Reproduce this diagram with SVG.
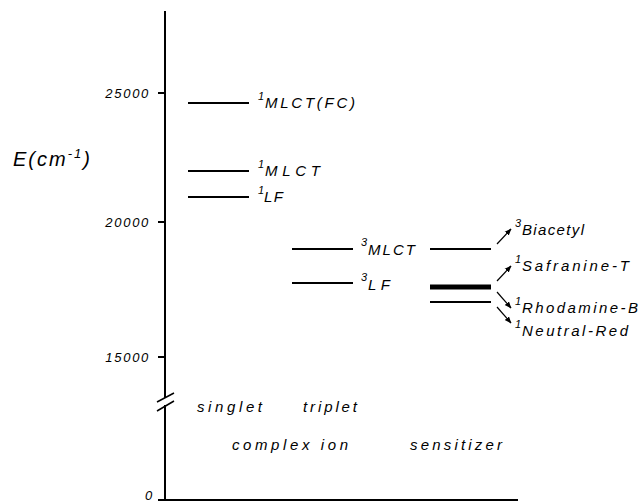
<svg xmlns="http://www.w3.org/2000/svg" width="641" height="504" viewBox="0 0 641 504">
<style>
text{font-family:"Liberation Sans",Arial,sans-serif;font-style:italic;fill:#000}
.tk{font-size:13px;letter-spacing:1.7px;text-anchor:end}
.lb{font-size:15px}
.sp{font-size:11px}
.ax{stroke:#000;stroke-width:2;fill:none}
.lv{stroke:#000;stroke-width:2.2;fill:none}
.ar{stroke:#000;stroke-width:1.2;fill:none;marker-end:url(#ah)}
</style>
<defs>
<marker id="ah" viewBox="0 0 10 10" refX="9" refY="5" markerWidth="7" markerHeight="7" markerUnits="userSpaceOnUse" orient="auto">
<path d="M0,1 L10,5 L0,9 Z" fill="#000"/>
</marker>
</defs>
<rect width="641" height="504" fill="#fff"/>
<g id="axes">
<path class="ax" d="M165,11 V398 M165,405 V500 H518"/>
<path class="ax" d="M158,93 H165 M158,222 H165 M158,357 H165 M158,500 H165"/>
<path stroke="#000" stroke-width="1.5" d="M157,402 L174,393 M157,411 L174,401"/>
<text class="tk" x="150" y="98">25000</text>
<text class="tk" x="150" y="227">20000</text>
<text class="tk" x="150" y="362">15000</text>
<text class="tk" x="154" y="500">0</text>
<text x="13" y="166" font-size="20" letter-spacing="2">E(cm<tspan font-size="13" dy="-8">-1</tspan><tspan dy="8">)</tspan></text>
</g>
<g id="singlet">
<line class="lv" x1="188" y1="103" x2="249" y2="103"/>
<text class="lb" x="258" y="108"><tspan class="sp" dy="-8">1</tspan><tspan x="265" dy="8" textLength="90" lengthAdjust="spacing">MLCT(FC)</tspan></text>
<line class="lv" x1="188" y1="171" x2="249" y2="171"/>
<text class="lb" x="258" y="176"><tspan class="sp" dy="-8">1</tspan><tspan x="265" dy="8" textLength="55" lengthAdjust="spacing">MLCT</tspan></text>
<line class="lv" x1="188" y1="197" x2="249" y2="197"/>
<text class="lb" x="258" y="202"><tspan class="sp" dy="-8">1</tspan><tspan x="264" dy="8" textLength="19" lengthAdjust="spacing">LF</tspan></text>
</g>
<g id="triplet">
<line class="lv" x1="292" y1="249" x2="353" y2="249"/>
<text class="lb" x="361" y="255"><tspan class="sp" dy="-9">3</tspan><tspan x="368" dy="9" textLength="47" lengthAdjust="spacing">MLCT</tspan></text>
<line class="lv" x1="292" y1="283" x2="353" y2="283"/>
<text class="lb" x="361" y="290"><tspan class="sp" dy="-9">3</tspan><tspan x="368" dy="9" textLength="22" lengthAdjust="spacing">LF</tspan></text>
</g>
<g id="sensitizer">
<line class="lv" x1="430" y1="249" x2="491" y2="249"/>
<line stroke="#000" stroke-width="5" x1="430" y1="287" x2="491" y2="287"/>
<line class="lv" x1="430" y1="302" x2="491" y2="302"/>
</g>
<g id="connectors">
<line class="ar" x1="497" y1="244" x2="511" y2="229"/>
<line class="ar" x1="497" y1="281" x2="511" y2="266"/>
<line class="ar" x1="497" y1="292" x2="511" y2="308"/>
<line class="ar" x1="497" y1="307" x2="511" y2="323"/>
</g>
<g id="labels-sens">
<text class="lb" x="515" y="235"><tspan class="sp" dy="-8">3</tspan><tspan x="522" dy="8" textLength="62" lengthAdjust="spacing">Biacetyl</tspan></text>
<text class="lb" x="515" y="271"><tspan class="sp" dy="-8">1</tspan><tspan x="522" dy="8" textLength="107" lengthAdjust="spacing">Safranine-T</tspan></text>
<text class="lb" x="515" y="313"><tspan class="sp" dy="-8">1</tspan><tspan x="522" dy="8" textLength="116" lengthAdjust="spacing">Rhodamine-B</tspan></text>
<text class="lb" x="515" y="336"><tspan class="sp" dy="-8">1</tspan><tspan x="522" dy="8" textLength="106" lengthAdjust="spacing">Neutral-Red</tspan></text>
</g>
<g id="bottom-labels">
<text class="lb" x="197" y="412" textLength="65" lengthAdjust="spacing">singlet</text>
<text class="lb" x="303" y="412" textLength="54" lengthAdjust="spacing">triplet</text>
<text class="lb" x="232" y="450" textLength="116" lengthAdjust="spacing">complex ion</text>
<text class="lb" x="410" y="450" textLength="92" lengthAdjust="spacing">sensitizer</text>
</g>
</svg>
